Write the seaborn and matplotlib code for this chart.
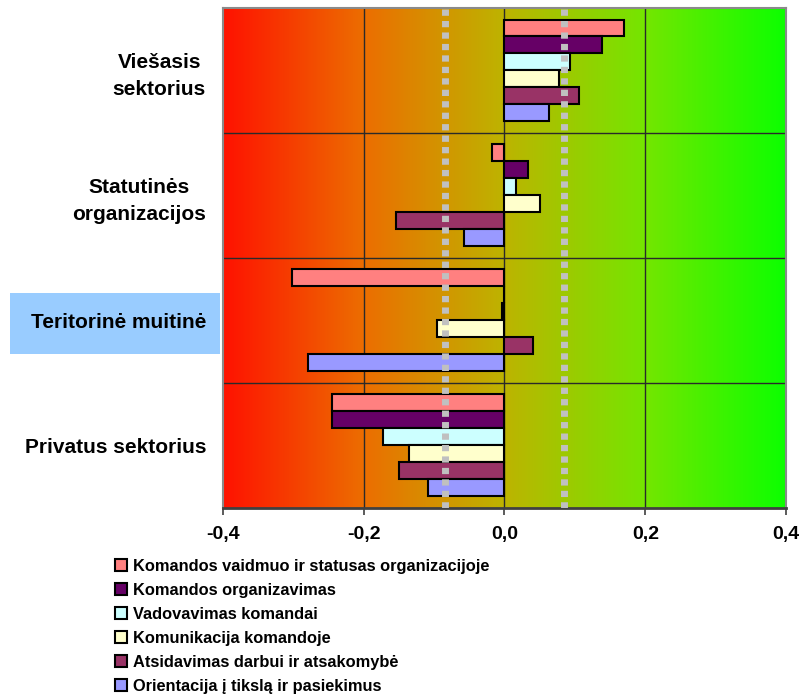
import numpy as np
import pandas as pd
import matplotlib
matplotlib.use("Agg")
import matplotlib.pyplot as plt
from matplotlib.colors import LinearSegmentedColormap
from matplotlib.patches import Rectangle
import seaborn as sns

# --- data -------------------------------------------------------------
sectors = ["Viešasis\nsektorius", "Statutinės\norganizacijos",
           "Teritorinė muitinė", "Privatus sektorius"]
dimensions = [
    "Komandos vaidmuo ir statusas organizacijoje",
    "Komandos organizavimas",
    "Vadovavimas komandai",
    "Komunikacija komandoje",
    "Atsidavimas darbui ir atsakomybė",
    "Orientacija į tikslą ir pasiekimus",
]
# one list per dimension, values in sector order
vaidmuo        = [0.170, -0.018, -0.301, -0.245]
organizavimas  = [0.139,  0.033,  0.000, -0.245]
vadovavimas    = [0.093,  0.017, -0.003, -0.172]
komunikacija   = [0.077,  0.051, -0.096, -0.135]
atsidavimas    = [0.106, -0.154,  0.040, -0.149]
orientacija    = [0.064, -0.058, -0.279, -0.108]
thresholds = [-0.085, 0.085]
x_ticks = [-0.4, -0.2, 0.0, 0.2, 0.4]
x_tick_labels = ["-0,4", "-0,2", "0,0", "0,2", "0,4"]

colors = ["#FF8080", "#660066", "#CCFFFF", "#FFFFCC", "#993366", "#9999FF"]

series = [vaidmuo, organizavimas, vadovavimas, komunikacija, atsidavimas, orientacija]
rows = []
for dim, vals in zip(dimensions, series):
    for sec, v in zip(sectors, vals):
        rows.append({"sector": sec, "dimension": dim, "value": v})
df = pd.DataFrame(rows)

# --- figure -----------------------------------------------------------
sns.set_style("white")
plt.rcParams["font.family"] = ["Liberation Sans", "DejaVu Sans"]
plt.rcParams["font.weight"] = "bold"
plt.rcParams["text.color"] = "black"
plt.rcParams["xtick.color"] = "black"
plt.rcParams["ytick.color"] = "black"

fig = plt.figure(figsize=(8.03, 6.94), dpi=100)
ax = fig.add_axes([0.2773, 0.2687, 0.979 - 0.2773, 0.989 - 0.2687])

# highlight box behind one of the category labels
fig.patches.append(Rectangle((10 / 803, 1 - 354 / 694), 210 / 803, 61 / 694,
                             transform=fig.transFigure, facecolor="#99CCFF",
                             edgecolor="none", zorder=-1))

sns.barplot(data=df, y="sector", x="value", hue="dimension", orient="h",
            order=sectors, hue_order=dimensions, palette=colors,
            saturation=1, width=0.81, gap=0, edgecolor="black",
            linewidth=1.5, errorbar=None, ax=ax, zorder=3)

# red -> green background gradient
cmap = LinearSegmentedColormap.from_list(
    "redgreen",
    [(0.0, "#FF1200"), (0.25, "#EC6E00"), (0.5, "#BDB400"),
     (0.75, "#74E600"), (1.0, "#0CFF00")])
grad = np.linspace(0, 1, 512).reshape(1, -1)
ax.imshow(grad, extent=[0, 1, 0, 1], transform=ax.transAxes, cmap=cmap,
          aspect="auto", zorder=0, interpolation="bilinear")

ax.set_xlim(-0.4, 0.4)
ax.set_ylim(3.5, -0.5)

for x in (-0.2, 0.0, 0.2):
    ax.axvline(x, color="#2a2a2a", lw=1.0, zorder=1)
for y in (0.5, 1.5, 2.5):
    ax.axhline(y, color="#2a2a2a", lw=1.0, zorder=1)

for t in thresholds:
    ax.axvline(t, color="#C0C0C0", lw=5.0, linestyle=(0, (0.9, 0.75)),
               zorder=5)

ax.set_xticks(x_ticks)
ax.set_xticklabels(x_tick_labels, fontsize=14, fontweight="bold")
ax.set_yticks(range(len(sectors)))
ax.set_yticklabels(sectors, fontsize=15, fontweight="bold")
for lbl in ax.get_yticklabels():
    lbl.set_multialignment("center")
    lbl.set_linespacing(1.55)
ax.tick_params(axis="y", length=0, pad=12)
ax.tick_params(axis="x", length=5, width=1.2, color="#404040", pad=8,
               direction="out", bottom=True)
ax.set_xlabel("")
ax.set_ylabel("")

for side in ("top", "right", "left"):
    ax.spines[side].set_color("#8a8a8a")
    ax.spines[side].set_linewidth(1.5)
ax.spines["bottom"].set_color("#404040")
ax.spines["bottom"].set_linewidth(2.0)

handles, labels = ax.get_legend_handles_labels()
ax.get_legend().remove()
fig.legend(handles, labels, loc="upper left",
           bbox_to_anchor=(115 / 803, 1 - 559 / 694), frameon=False,
           prop={"size": 11.8, "weight": "bold"}, handlelength=0.72,
           handleheight=0.72, handletextpad=0.35, labelspacing=0.55,
           borderpad=0, borderaxespad=0)

fig.savefig("out.png", dpi=100)
